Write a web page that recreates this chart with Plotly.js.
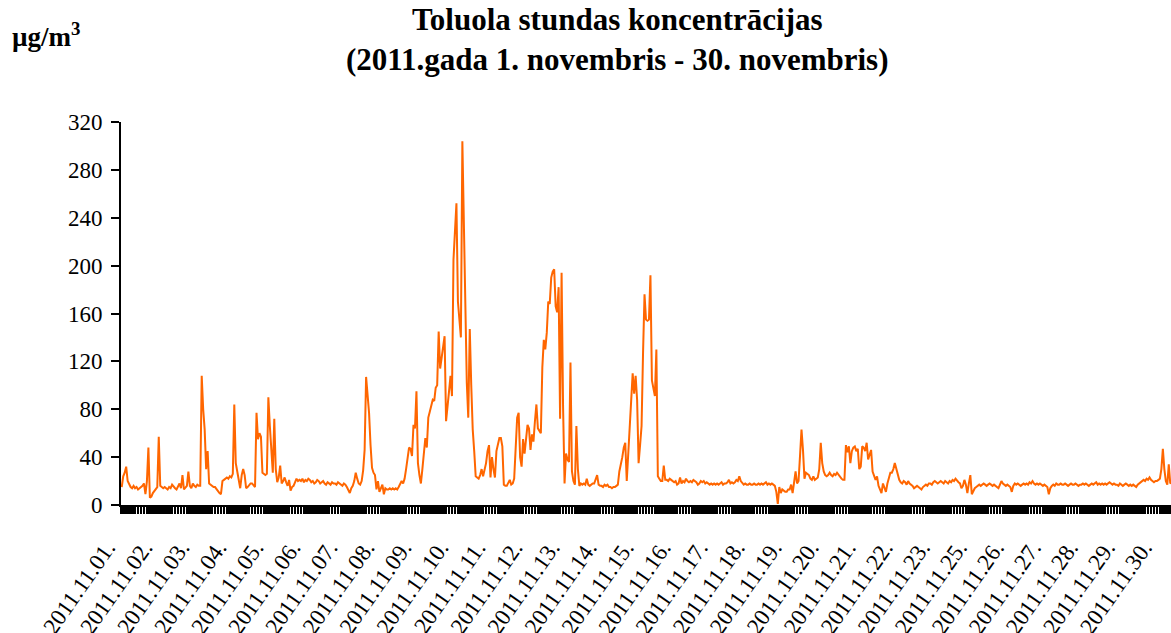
<!DOCTYPE html>
<html>
<head>
<meta charset="utf-8">
<script src="https://cdn.plot.ly/plotly-3.0.1.min.js"></script>
<style>html,body{margin:0;padding:0;background:#fff;}#chart{width:1171px;height:633px;}</style>
</head>
<body>
<div id="chart"></div>
<script>
// Hourly toluene concentrations, µg/m3, one value per hour from 2011.11.01 01:00
const day01 = [15,24,27,32,20,17,15,14,16,14,15,13,14,15,16,18,9,20,48,6,7,10,12,14];
const day02 = [15,57,16,15,14,15,14,13,15,14,17,15,14,13,15,18,14,25,13,15,16,28,16,14];
const day03 = [18,16,15,17,16,16,108,80,63,30,45,18,17,16,15,15,13,11,10,9,20,21,22,23];
const day04 = [22,24,23,26,84,35,28,20,14,25,30,25,14,15,17,18,18,16,15,77,55,60,57,27];
const day05 = [26,25,26,90,66,40,27,72,30,19,23,33,18,20,23,19,16,21,12,15,16,19,22,20];
const day06 = [21,20,22,19,21,20,22,21,19,20,18,19,21,20,18,19,20,18,17,19,18,17,19,18];
const day07 = [18,17,19,18,17,16,18,17,15,12,10,14,16,20,27,22,18,17,20,29,46,107,95,77];
const day08 = [50,31,27,25,13,20,11,15,17,9,14,13,13,14,13,14,13,14,13,15,17,20,18,22];
const day09 = [30,42,48,47,41,67,64,95,35,25,18,30,46,56,48,73,78,82,88,87,98,100,145,114];
const day10 = [124,132,141,70,80,95,108,91,205,230,252,170,150,140,304,235,160,102,73,147,100,63,45,24];
const day11 = [23,22,25,30,24,30,35,45,50,23,40,30,23,45,50,56,56,49,17,16,16,19,21,17];
const day12 = [18,22,50,73,77,40,32,55,43,55,67,64,46,59,53,70,84,64,62,60,115,138,130,144];
const day13 = [170,168,190,195,197,166,161,182,72,194,82,18,43,38,36,119,28,20,17,66,30,16,18,17];
const day14 = [18,17,22,17,16,17,18,18,21,25,17,16,16,15,17,16,17,15,15,14,15,15,16,17];
const day15 = [28,33,40,48,52,20,40,60,85,110,93,108,88,35,50,66,127,176,155,154,155,192,104,98];
const day16 = [91,130,24,22,20,20,33,21,21,20,22,21,20,19,20,17,18,23,18,20,19,22,20,19];
const day17 = [20,19,21,20,19,17,18,20,19,20,18,19,18,17,18,17,18,17,18,17,18,19,17,18];
const day18 = [18,19,21,18,19,18,19,21,20,24,20,18,17,18,17,17,18,17,17,18,17,17,18,17];
const day19 = [18,17,18,19,17,18,17,18,17,16,11,1,15,10,13,12,11,11,13,13,17,10,20,28];
const day20 = [18,20,41,63,46,22,27,26,25,22,21,24,21,22,23,30,52,35,28,25,24,25,27,25];
const day21 = [24,26,25,27,25,23,22,21,21,50,44,49,35,45,48,49,45,47,30,32,49,48,45,52];
const day22 = [38,42,46,28,24,21,24,16,13,10,18,14,11,18,24,27,27,30,35,30,27,21,19,18];
const day23 = [20,19,17,20,18,17,16,14,15,16,15,14,13,15,16,17,16,18,18,17,19,20,19,18];
const day24 = [19,20,19,18,20,19,18,20,19,21,20,22,20,19,18,14,16,21,17,10,18,25,9,12];
const day25 = [14,15,16,17,16,17,18,17,16,17,18,17,16,17,16,15,14,17,20,18,17,16,17,16];
const day26 = [15,11,16,18,17,18,17,16,17,18,17,18,17,19,18,20,18,17,18,17,18,17,16,17];
const day27 = [16,15,9,14,16,17,16,18,17,17,18,17,17,18,17,16,17,18,17,17,18,17,16,17];
const day28 = [17,18,17,18,17,16,17,18,17,18,19,17,18,17,18,17,18,17,18,19,18,17,18,17];
const day29 = [17,16,18,17,16,17,18,17,16,17,16,17,16,15,17,18,19,20,21,20,22,21,23,21];
const day30 = [20,19,20,20,21,22,30,47,30,20,17,34,18,19];

// Category tick labels (every 25th hour is labelled)
const tickLabels = ["2011.11.01.","2011.11.02.","2011.11.03.","2011.11.04.","2011.11.05.",
  "2011.11.06.","2011.11.07.","2011.11.08.","2011.11.09.","2011.11.10.","2011.11.11.",
  "2011.11.12.","2011.11.13.","2011.11.14.","2011.11.15.","2011.11.16.","2011.11.17.",
  "2011.11.18.","2011.11.19.","2011.11.20.","2011.11.21.","2011.11.22.","2011.11.23.",
  "2011.11.25.","2011.11.26.","2011.11.27.","2011.11.28.","2011.11.29.","2011.11.30."];
const labelStep = 25;
const yTicks = [0,40,80,120,160,200,240,280,320];

const values = [].concat(day01,day02,day03,day04,day05,day06,day07,day08,day09,day10,
  day11,day12,day13,day14,day15,day16,day17,day18,day19,day20,day21,day22,day23,day24,
  day25,day26,day27,day28,day29,day30);
const hours = values.map((v, i) => i);
// a tick on every hour boundary; every 25th one carries a date label
const tickPos = hours.map(i => i - 0.5);
const tickText = hours.map(i => (i % labelStep === 0 && tickLabels[i / labelStep]) ? tickLabels[i / labelStep] : '');

const font = "Liberation Serif, Times New Roman, serif";

const trace = {
  x: hours, y: values, type: 'scatter', mode: 'lines',
  line: {color: '#FF6600', width: 2}, hoverinfo: 'y'
};

const layout = {
  width: 1171, height: 633,
  margin: {l: 121, r: 0, t: 122, b: 128},
  paper_bgcolor: '#fff', plot_bgcolor: '#fff',
  showlegend: false,
  font: {family: font, color: '#000'},
  annotations: [{
    text: '<b>Toluola stundas koncentrācijas</b><br><b>(2011.gada 1. novembris - 30. novembris)</b>',
    xref: 'paper', yref: 'paper', x: 0.4724, y: 1.2167,
    xanchor: 'center', yanchor: 'middle', align: 'center', showarrow: false,
    font: {family: font, size: 31, color: '#000'}
  }, {
    text: '<b>µg/m<sup>3</sup></b>', xref: 'paper', yref: 'paper',
    x: -0.1057, y: 1.228, xanchor: 'left', yanchor: 'middle', showarrow: false,
    font: {family: font, size: 27, color: '#000'}
  }],
  xaxis: {
    range: [-0.5, 708.5], tickmode: 'array', tickvals: tickPos, ticktext: tickText,
    tickangle: -55, tickfont: {family: font, size: 23, color: '#000'},
    ticklabelstandoff: 11, ticklabelshift: -14, ticklabeloverflow: 'allow',
    ticks: 'outside', ticklen: 7, tickwidth: 1.3, tickcolor: '#000',
    showline: true, linecolor: '#000', linewidth: 2,
    showgrid: false, zeroline: false, fixedrange: true
  },
  yaxis: {
    range: [0, 320], tickmode: 'array', tickvals: yTicks,
    tickfont: {family: font, size: 23, color: '#000'}, ticklabelstandoff: 4,
    ticks: 'outside', ticklen: 8, tickwidth: 2, tickcolor: '#000',
    showline: true, linecolor: '#000', linewidth: 2,
    showgrid: false, zeroline: false, fixedrange: true
  }
};

Plotly.newPlot('chart', [trace], layout, {displayModeBar: false, staticPlot: true});
</script>
</body>
</html>
